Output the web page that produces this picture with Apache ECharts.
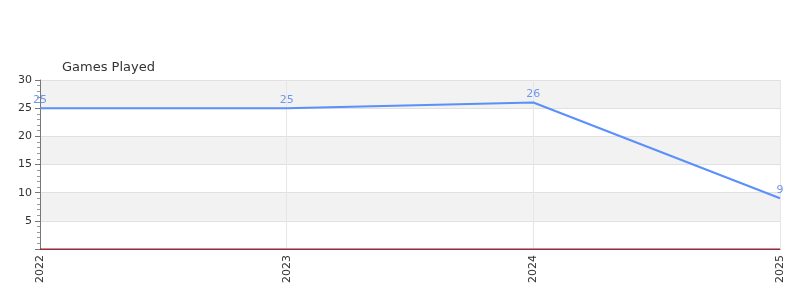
<!DOCTYPE html>
<html><head><meta charset="utf-8">
<script src="https://cdn.jsdelivr.net/npm/echarts@6/dist/echarts.min.js"></script>
<style>html,body{margin:0;padding:0;background:#fff}#c{width:800px;height:300px}</style>
</head><body><div id="c"></div>
<script>
const categories = ['2022', '2023', '2024', '2025'];
const gamesPlayed = [25, 25, 26, 9];
const baseline = [0, 0, 0, 0];
const yTicks = [0, 5, 10, 15, 20, 25, 30];

const chart = echarts.init(document.getElementById('c'), null, {renderer: 'canvas'});
chart.setOption({
  animation: false,
  textStyle: {fontFamily: 'DejaVu Sans'},
  title: {text: 'Games Played', left: 62, top: 61, padding: 0,
    textStyle: {fontSize: 13, fontWeight: 'normal', color: '#333', fontFamily: 'DejaVu Sans'}},
  grid: {left: 40, right: 20, top: 80, bottom: 51, containLabel: false},
  xAxis: {
    type: 'category', data: categories, boundaryGap: false,
    axisLine: {lineStyle: {color: '#555', width: 1}},
    axisTick: {show: false},
    axisLabel: {rotate: 90, color: '#333', fontSize: 11, margin: 6, fontFamily: 'DejaVu Sans'},
    splitLine: {show: true, lineStyle: {color: '#e6e6e6'}}
  },
  yAxis: {
    type: 'value', min: yTicks[0], max: yTicks[yTicks.length - 1], interval: 5,
    axisLine: {show: true, lineStyle: {color: '#777'}},
    axisTick: {show: true, length: 5, lineStyle: {color: '#777'}},
    minorTick: {show: true, splitNumber: 5, length: 3, lineStyle: {color: '#999'}},
    axisLabel: {color: '#333', fontSize: 11, margin: 8, fontFamily: 'DejaVu Sans',
      formatter: v => (v === 0 ? '' : String(v))},
    splitLine: {show: true, lineStyle: {color: '#e0e0e0'}},
    splitArea: {show: true, areaStyle: {color: ['#ffffff', '#f2f2f2']}}
  },
  series: [
    {
      name: 'Games Played', type: 'line', data: gamesPlayed,
      symbol: 'circle', symbolSize: 0, lineStyle: {color: '#5B8FF9', width: 2},
      itemStyle: {color: '#5B8FF9'},
      label: {show: true, position: 'top', color: '#6E98EE', fontSize: 11, distance: 3, fontFamily: 'DejaVu Sans'},
      z: 3
    },
    {
      name: 'Baseline', type: 'line', data: baseline,
      symbol: 'none', lineStyle: {color: '#d0021b', width: 1},
      z: 1
    }
  ]
});
</script></body></html>
